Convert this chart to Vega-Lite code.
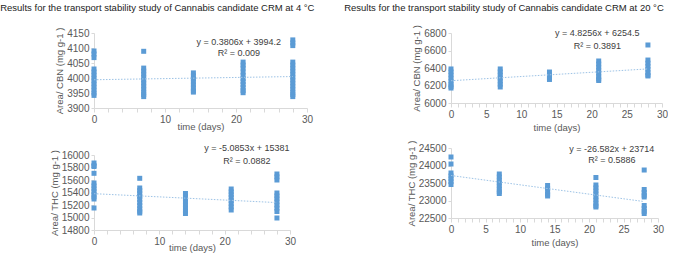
{
  "$schema": "https://vega.github.io/schema/vega-lite/v6.json",
  "padding": {"left": 0, "top": 2, "right": 0, "bottom": 2},
  "background": "white",
  "config": {
    "view": {"stroke": null},
    "font": "Liberation Sans",
    "axis": {
      "labelFont": "Liberation Sans", "labelFontSize": 10, "labelColor": "#595959",
      "titleFont": "Liberation Sans", "titleFontSize": 9.5, "titleColor": "#595959", "titleFontWeight": "normal",
      "domainColor": "#D9D9D9", "tickColor": "#D9D9D9", "grid": false, "tickSize": 4, "labelFlush": false, "labelOverlap": false, "format": "d", "tickCount": 100
    },
    "title": {"font": "Liberation Sans", "fontSize": 9.5, "fontWeight": "normal", "color": "#222222"}
  },
  "datasets": {
    "p1": [
      {"t":0,"v":4090},{"t":0,"v":4080},{"t":0,"v":4068},{"t":0,"v":4030},{"t":0,"v":4020},{"t":0,"v":4010},{"t":0,"v":4000},{"t":0,"v":3990},{"t":0,"v":3980},{"t":0,"v":3970},{"t":0,"v":3960},{"t":0,"v":3950},{"t":0,"v":3942},
      {"t":7,"v":4089},{"t":7,"v":4033},{"t":7,"v":4023},{"t":7,"v":4013},{"t":7,"v":4003},{"t":7,"v":3993},{"t":7,"v":3983},{"t":7,"v":3973},{"t":7,"v":3963},{"t":7,"v":3953},{"t":7,"v":3945},{"t":7,"v":3938},
      {"t":14,"v":4017},{"t":14,"v":4007},{"t":14,"v":3997},{"t":14,"v":3987},{"t":14,"v":3977},{"t":14,"v":3967},{"t":14,"v":3957},{"t":14,"v":3953},
      {"t":21,"v":4053},{"t":21,"v":4043},{"t":21,"v":4033},{"t":21,"v":4020},{"t":21,"v":4008},{"t":21,"v":3998},{"t":21,"v":3988},{"t":21,"v":3978},{"t":21,"v":3968},{"t":21,"v":3958},{"t":21,"v":3951},
      {"t":28,"v":4127},{"t":28,"v":4117},{"t":28,"v":4108},{"t":28,"v":4053},{"t":28,"v":4043},{"t":28,"v":4033},{"t":28,"v":4023},{"t":28,"v":4013},{"t":28,"v":4003},{"t":28,"v":3993},{"t":28,"v":3983},{"t":28,"v":3973},{"t":28,"v":3963},{"t":28,"v":3953},{"t":28,"v":3945},{"t":28,"v":3938}
    ],
    "p1trend": [{"t":0,"v":3994.2},{"t":28,"v":4004.86}],
    "p1text": [{"t":20.4,"v":4121,"label":"y = 0.3806x + 3994.2"},{"t":20.4,"v":4082,"label":"R² = 0.009"}],
    "p2": [
      {"t":0,"v":15872},{"t":0,"v":15830},{"t":0,"v":15816},{"t":0,"v":15707},{"t":0,"v":15552},{"t":0,"v":15505},{"t":0,"v":15460},{"t":0,"v":15415},{"t":0,"v":15370},{"t":0,"v":15330},{"t":0,"v":15296},{"t":0,"v":15152},
      {"t":7,"v":15627},{"t":7,"v":15472},{"t":7,"v":15430},{"t":7,"v":15385},{"t":7,"v":15340},{"t":7,"v":15290},{"t":7,"v":15240},{"t":7,"v":15190},{"t":7,"v":15140},{"t":7,"v":15100},{"t":7,"v":15072},
      {"t":14,"v":15384},{"t":14,"v":15340},{"t":14,"v":15295},{"t":14,"v":15250},{"t":14,"v":15200},{"t":14,"v":15150},{"t":14,"v":15100},{"t":14,"v":15064},
      {"t":21,"v":15456},{"t":21,"v":15410},{"t":21,"v":15365},{"t":21,"v":15320},{"t":21,"v":15270},{"t":21,"v":15220},{"t":21,"v":15170},{"t":21,"v":15120},
      {"t":28,"v":15696},{"t":28,"v":15650},{"t":28,"v":15600},{"t":28,"v":15392},{"t":28,"v":15345},{"t":28,"v":15300},{"t":28,"v":15250},{"t":28,"v":15200},{"t":28,"v":15150},{"t":28,"v":15096},{"t":28,"v":14992}
    ],
    "p2trend": [{"t":0,"v":15381},{"t":28,"v":15238.6}],
    "p2text": [{"t":23.4,"v":16112,"label":"y = -5.0853x + 15381"},{"t":23.4,"v":15909,"label":"R² = 0.0882"}],
    "p3": [
      {"t":0,"v":6389},{"t":0,"v":6355},{"t":0,"v":6320},{"t":0,"v":6285},{"t":0,"v":6250},{"t":0,"v":6215},{"t":0,"v":6190},{"t":0,"v":6171},
      {"t":7,"v":6389},{"t":7,"v":6355},{"t":7,"v":6320},{"t":7,"v":6285},{"t":7,"v":6250},{"t":7,"v":6215},{"t":7,"v":6183},
      {"t":14,"v":6354},{"t":14,"v":6320},{"t":14,"v":6290},{"t":14,"v":6269},
      {"t":21,"v":6480},{"t":21,"v":6445},{"t":21,"v":6410},{"t":21,"v":6375},{"t":21,"v":6340},{"t":21,"v":6305},{"t":21,"v":6275},{"t":21,"v":6257},
      {"t":28,"v":6663},{"t":28,"v":6491},{"t":28,"v":6455},{"t":28,"v":6420},{"t":28,"v":6385},{"t":28,"v":6350},{"t":28,"v":6320},{"t":28,"v":6309}
    ],
    "p3trend": [{"t":0,"v":6254.5},{"t":28,"v":6389.6}],
    "p3text": [{"t":20.8,"v":6797,"label":"y = 4.8256x + 6254.5"},{"t":20.8,"v":6655,"label":"R² = 0.3891"}],
    "p4": [
      {"t":0,"v":24243},{"t":0,"v":24043},{"t":0,"v":23786},{"t":0,"v":23700},{"t":0,"v":23620},{"t":0,"v":23540},{"t":0,"v":23457},
      {"t":7,"v":23757},{"t":7,"v":23670},{"t":7,"v":23585},{"t":7,"v":23500},{"t":7,"v":23415},{"t":7,"v":23330},{"t":7,"v":23250},{"t":7,"v":23200},
      {"t":14,"v":23429},{"t":14,"v":23345},{"t":14,"v":23260},{"t":14,"v":23180},{"t":14,"v":23129},
      {"t":21,"v":23657},{"t":21,"v":23443},{"t":21,"v":23360},{"t":21,"v":23275},{"t":21,"v":23190},{"t":21,"v":23100},{"t":21,"v":23015},{"t":21,"v":22930},{"t":21,"v":22850},{"t":21,"v":22814},
      {"t":28,"v":23871},{"t":28,"v":23314},{"t":28,"v":23230},{"t":28,"v":23150},{"t":28,"v":23100},{"t":28,"v":22857},{"t":28,"v":22770},{"t":28,"v":22690},{"t":28,"v":22629}
    ],
    "p4trend": [{"t":0,"v":23714},{"t":28,"v":22969.7}],
    "p4text": [{"t":23.3,"v":24471,"label":"y = -26.582x + 23714"},{"t":23.3,"v":24157,"label":"R² = 0.5886"}]
  },
  "align": "none",
  "spacing": 29,
  "hconcat": [
    {
      "title": {"text": "Results for the transport stability study of Cannabis candidate CRM at 4 °C", "anchor": "start", "frame": "bounds", "dx": -49, "offset": 15},
      "spacing": 13,
      "align": "none",
      "vconcat": [
        {
          "width": 213, "height": 75,
          "layer": [
            {"data": {"name": "p1"}, "mark": {"type": "square", "size": 25, "opacity": 1, "color": "#5B9BD5"},
             "encoding": {
               "x": {"field": "t", "type": "quantitative", "scale": {"domain": [0, 30], "nice": false}, "axis": {"title": "time (days)", "values": [0,2,4,6,8,10,12,14,16,18,20,22,24,26,28,30], "tickCount": 100, "labelExpr": "datum.value % 10 === 0 ? datum.label : ''", "titlePadding": -3}},
               "y": {"field": "v", "type": "quantitative", "scale": {"domain": [3900, 4150], "nice": false, "zero": false}, "axis": {"title": "Area/ CBN (mg g-1 )", "values": [3900,3950,4000,4050,4100,4150], "tickCount": 100, "tickSize": 3, "titlePadding": 2}}
             }},
            {"data": {"name": "p1trend"}, "mark": {"type": "line", "color": "#9DC3E6", "strokeDash": [1.5, 1.5], "strokeWidth": 1},
             "encoding": {"x": {"field": "t", "type": "quantitative"}, "y": {"field": "v", "type": "quantitative"}}},
            {"data": {"name": "p1text"}, "mark": {"type": "text", "fontSize": 9, "color": "#404040", "font": "Liberation Sans"},
             "encoding": {"x": {"field": "t", "type": "quantitative"}, "y": {"field": "v", "type": "quantitative"}, "text": {"field": "label"}}}
          ]
        },
        {
          "width": 196, "height": 75,
          "layer": [
            {"data": {"name": "p2"}, "mark": {"type": "square", "size": 25, "opacity": 1, "color": "#5B9BD5"},
             "encoding": {
               "x": {"field": "t", "type": "quantitative", "scale": {"domain": [0, 30], "nice": false}, "axis": {"title": "time (days)", "values": [0,2,4,6,8,10,12,14,16,18,20,22,24,26,28,30], "tickCount": 100, "labelExpr": "datum.value % 10 === 0 ? datum.label : ''", "titlePadding": -4}},
               "y": {"field": "v", "type": "quantitative", "scale": {"domain": [14800, 16000], "nice": false, "zero": false}, "axis": {"title": "Area/ THC (mg g-1 )", "values": [14800,15000,15200,15400,15600,15800,16000], "tickCount": 100, "tickSize": 3, "titlePadding": 2}}
             }},
            {"data": {"name": "p2trend"}, "mark": {"type": "line", "color": "#9DC3E6", "strokeDash": [1.5, 1.5], "strokeWidth": 1},
             "encoding": {"x": {"field": "t", "type": "quantitative"}, "y": {"field": "v", "type": "quantitative"}}},
            {"data": {"name": "p2text"}, "mark": {"type": "text", "fontSize": 9, "color": "#404040", "font": "Liberation Sans"},
             "encoding": {"x": {"field": "t", "type": "quantitative"}, "y": {"field": "v", "type": "quantitative"}, "text": {"field": "label"}}}
          ]
        }
      ]
    },
    {
      "title": {"text": "Results for the transport stability study of Cannabis candidate CRM at 20 °C", "anchor": "start", "frame": "bounds", "dx": -62, "offset": 12},
      "spacing": 7,
      "align": "none",
      "vconcat": [
        {
          "width": 211, "height": 70,
          "layer": [
            {"data": {"name": "p3"}, "mark": {"type": "square", "size": 25, "opacity": 1, "color": "#5B9BD5"},
             "encoding": {
               "x": {"field": "t", "type": "quantitative", "scale": {"domain": [0, 30], "nice": false}, "axis": {"title": "time (days)", "values": [0,1,2,3,4,5,6,7,8,9,10,11,12,13,14,15,16,17,18,19,20,21,22,23,24,25,26,27,28,29,30], "tickCount": 100, "labelExpr": "datum.value % 5 === 0 ? datum.label : ''", "titlePadding": 3}},
               "y": {"field": "v", "type": "quantitative", "scale": {"domain": [6000, 6800], "nice": false, "zero": false}, "axis": {"title": "Area/ CBN (mg g-1 )", "values": [6000,6200,6400,6600,6800], "tickCount": 100, "tickSize": 3, "titlePadding": 2}}
             }},
            {"data": {"name": "p3trend"}, "mark": {"type": "line", "color": "#9DC3E6", "strokeDash": [1.5, 1.5], "strokeWidth": 1},
             "encoding": {"x": {"field": "t", "type": "quantitative"}, "y": {"field": "v", "type": "quantitative"}}},
            {"data": {"name": "p3text"}, "mark": {"type": "text", "fontSize": 9, "color": "#404040", "font": "Liberation Sans"},
             "encoding": {"x": {"field": "t", "type": "quantitative"}, "y": {"field": "v", "type": "quantitative"}, "text": {"field": "label"}}}
          ]
        },
        {
          "width": 207, "height": 70,
          "layer": [
            {"data": {"name": "p4"}, "mark": {"type": "square", "size": 25, "opacity": 1, "color": "#5B9BD5"},
             "encoding": {
               "x": {"field": "t", "type": "quantitative", "scale": {"domain": [0, 30], "nice": false}, "axis": {"title": "time (days)", "values": [0,1,2,3,4,5,6,7,8,9,10,11,12,13,14,15,16,17,18,19,20,21,22,23,24,25,26,27,28,29,30], "tickCount": 100, "labelExpr": "datum.value % 5 === 0 ? datum.label : ''", "titlePadding": 3}},
               "y": {"field": "v", "type": "quantitative", "scale": {"domain": [22500, 24500], "nice": false, "zero": false}, "axis": {"title": "Area/ THC (mg g-1 )", "values": [22500,23000,23500,24000,24500], "tickCount": 100, "tickSize": 3, "titlePadding": 2}}
             }},
            {"data": {"name": "p4trend"}, "mark": {"type": "line", "color": "#9DC3E6", "strokeDash": [1.5, 1.5], "strokeWidth": 1},
             "encoding": {"x": {"field": "t", "type": "quantitative"}, "y": {"field": "v", "type": "quantitative"}}},
            {"data": {"name": "p4text"}, "mark": {"type": "text", "fontSize": 9, "color": "#404040", "font": "Liberation Sans"},
             "encoding": {"x": {"field": "t", "type": "quantitative"}, "y": {"field": "v", "type": "quantitative"}, "text": {"field": "label"}}}
          ]
        }
      ]
    }
  ]
}
